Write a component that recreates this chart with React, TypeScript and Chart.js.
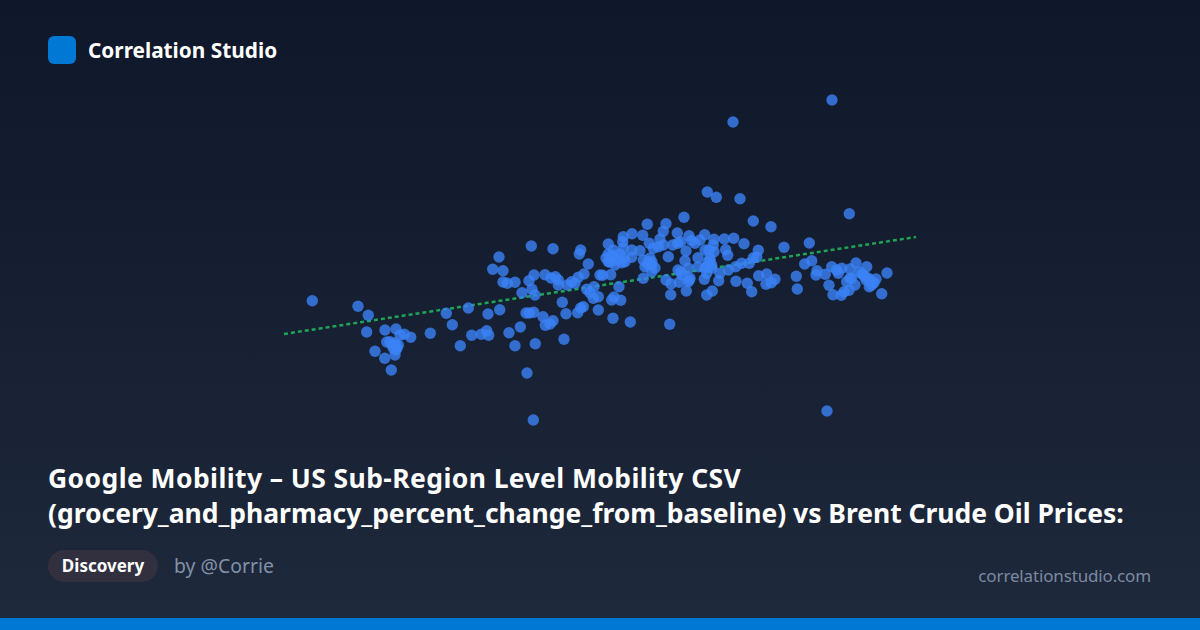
import React, { useEffect, useRef } from "react";
import { Chart, registerables } from "chart.js";

Chart.register(...registerables);

const grocery = [
  -28.77,-24.2,-23.17,-23.33,-21.5,-20.4,-20.0,-19.57,-18.93,-21.33,-21.0,-20.5,-20.17,-20.67,-20.4,-20.5,-22.5,-21.53,-20.87,-16.97,
  -15.37,-14.77,-13.17,-11.2,-10.03,-13.97,-12.83,-11.87,-11.33,-11.13,-9.1,-7.97,-8.5,-6.47,-3.6,-7.3,-6.67,-6.87,-4.7,-10.1,
  -10.73,-9.7,-9.7,-9.27,-8.5,-7.8,-7.1,-6.6,-6.8,-6.5,-5.5,-4.9,-4.47,-4.17,-4.17,-3.77,-3.4,-2.23,-1.93,-1.67,
  -3.27,-2.83,-2.5,-2.17,-1.6,-1.17,-2.07,-1.93,-1.33,-1.0,-0.6,-0.67,-0.17,-0.17,-7.4,-7.07,-6.63,-5.7,-4.7,-5.0,
  -5.47,0.0,10.73,11.63,14.0,24.93,15.33,17.1,8.4,4.73,6.6,6.33,3.2,4.27,2.33,2.27,0.83,7.73,8.9,10.47,
  11.4,12.43,13.37,14.4,18.4,20.93,15.83,12.57,12.77,11.33,11.4,10.5,10.9,10.0,9.5,9.17,8.07,7.27,7.77,6.0,
  4.93,5.33,5.83,6.33,4.0,3.17,2.33,1.33,0.83,1.17,0.83,1.5,2.17,2.5,3.17,4.33,4.83,5.17,4.5,5.17,
  4.33,6.83,8.6,8.5,9.8,11.0,11.17,10.67,9.83,8.83,8.07,9.0,8.83,7.93,7.1,6.6,10.43,10.67,12.0,12.83,
  11.87,13.6,13.57,14.17,14.93,15.33,15.67,14.73,15.17,15.87,16.67,17.5,17.13,16.6,19.63,19.73,20.47,21.17,21.7,21.6,
  22.53,23.17,23.83,24.17,25.0,25.6,26.67,25.93,25.0,24.67,25.5,22.9,23.3,24.13,24.4,24.9,26.5,27.0,27.6,27.17,
  26.93,28.7,28.17,1.9,0.27,1.07,1.17,1.4,2.07,1.3,3.03,6.97,7.07,8.63,10.67,11.23,8.93,23.2,13.3,22.7,
  23.67,26.33,25.17,27.4,26.83,
  1.2,1.8,0.6,2.0,1.5,1.0,2.4,4.8,5.2,5.0,5.5,10.8,10.5,11.2,11.0,8.2,7.8,-20.8,-20.5,-20.3,26.2,26.6,
];
const brent = [
  39.86,38.74,36.94,33.6,34.0,34.2,33.0,33.14,32.54,31.6,31.66,31.0,31.0,30.34,30.0,29.0,29.74,28.34,26.0,33.34,
  37.34,35.06,38.4,37.2,38.06,30.86,32.94,33.14,33.86,32.94,33.46,34.6,30.86,31.26,32.14,25.4,16.0,50.8,50.26,48.6,
  46.14,45.86,43.6,43.34,43.54,41.46,43.86,45.0,42.14,41.0,45.06,44.4,44.66,44.0,43.0,39.54,37.26,37.46,38.4,38.66,
  43.0,43.66,43.34,44.54,45.2,47.2,49.2,50.0,42.14,41.46,42.66,40.34,40.66,38.0,37.4,37.4,37.54,36.66,35.86,35.2,
  34.94,45.0,61.6,60.54,60.26,57.26,55.8,54.66,56.54,55.14,55.26,53.74,53.26,52.94,52.66,51.66,51.2,53.4,52.86,53.06,
  52.14,52.2,52.34,51.26,50.54,51.4,49.94,50.06,48.94,51.0,49.66,50.0,50.0,52.0,51.34,51.86,51.66,51.0,51.34,52.2,
  51.34,50.34,50.66,51.0,49.86,50.0,50.34,50.0,49.2,48.54,47.66,48.0,47.46,47.66,48.54,48.0,47.66,47.0,46.66,45.66,
  44.34,48.66,49.8,47.86,48.46,47.86,47.0,46.66,46.66,46.34,45.66,44.34,43.66,43.54,43.2,44.0,44.14,45.34,45.34,46.0,
  43.86,43.74,46.66,47.34,47.34,48.46,48.54,43.34,41.66,44.86,45.2,44.14,43.46,43.14,44.74,42.2,47.2,47.86,45.86,45.0,
  45.14,46.66,45.34,46.34,46.2,47.4,46.66,45.66,44.34,43.66,43.0,42.94,41.06,40.94,41.66,41.94,44.66,44.0,44.2,43.0,
  42.66,45.4,41.26,42.66,44.94,45.06,40.0,40.6,39.94,36.34,35.6,35.14,41.06,41.8,41.0,41.8,44.0,80.0,75.6,17.8,
  46.0,45.0,44.34,43.46,44.34,
  49.0,48.4,48.4,49.2,47.0,47.6,48.4,47.0,47.6,48.4,46.4,47.6,46.4,46.4,48.4,45.0,46.0,31.0,31.4,30.4,45.2,44.0,
];
const trendX = [-31.6, 31.6];
const trendY = [33.2, 52.6];

const brandName = "Correlation Studio";
const titleLines = [
  "Google Mobility – US Sub-Region Level Mobility CSV",
  "(grocery_and_pharmacy_percent_change_from_baseline) vs Brent Crude Oil Prices:",
];
const titleSpacing = [0.41, -0.03];
const badge = "Discovery";
const author = "by @Corrie";
const site = "correlationstudio.com";

const FONT = '"Noto Sans", sans-serif';

export default function App() {
  const ref = useRef<HTMLCanvasElement>(null);
  useEffect(() => {
    const chart = new Chart(ref.current!, {
      type: "scatter",
      data: {
        datasets: [
          {
            label: "Trend",
            data: trendX.map((x, i) => ({ x, y: trendY[i] })),
            showLine: true,
            borderColor: "rgba(34,197,94,0.8)",
            borderWidth: 2.5,
            borderDash: [4, 3],
            pointRadius: 0,
            order: 2,
          },
          {
            label: "Observations",
            data: grocery.map((x, i) => ({ x, y: brent[i] })),
            backgroundColor: "rgba(59,130,246,0.8)",
            borderWidth: 0,
            pointRadius: 5.7,
            order: 1,
          },
        ],
      },
      options: {
        animation: false,
        responsive: false,
        devicePixelRatio: 1,
        layout: { padding: 0, autoPadding: false },
        plugins: { legend: { display: false }, tooltip: { enabled: false } },
        scales: {
          x: { type: "linear", min: -34, max: 34, display: false },
          y: { type: "linear", min: 12, max: 84, display: false },
        },
      },
    });
    return () => chart.destroy();
  }, []);

  return (
    <div
      style={{
        position: "absolute",
        left: 0,
        top: 0,
        width: 1200,
        height: 630,
        overflow: "hidden",
        background: "linear-gradient(180deg, #0f172a 0%, #1e293b 100%)",
        fontFamily: FONT,
      }}
    >
      <div style={{ position: "absolute", left: 48, top: 36, width: 28, height: 28, borderRadius: 6, background: "#0078d4" }} />
      <div style={{ position: "absolute", left: 88, top: 35, fontSize: 20.8, lineHeight: "30px", fontWeight: 700, color: "#fff", whiteSpace: "nowrap" }}>
        {brandName}
      </div>
      <canvas ref={ref} width={680} height={360} style={{ position: "absolute", left: 260, top: 80, width: 680, height: 360 }} />
      <div style={{ position: "absolute", left: 48, top: 461, fontSize: 26.5, lineHeight: "35px", fontWeight: 700, color: "#fff", whiteSpace: "nowrap" }}>
        {titleLines.map((t, i) => (
          <div key={t} style={{ letterSpacing: titleSpacing[i] }}>{t}</div>
        ))}
      </div>
      <div style={{ position: "absolute", left: 48, top: 550, width: 110, height: 32, borderRadius: 16, background: "#322f3f", color: "#fff", fontSize: 17, fontWeight: 700, lineHeight: "32px", textAlign: "center" }}>
        {badge}
      </div>
      <div style={{ position: "absolute", left: 174, top: 553, fontSize: 19.4, lineHeight: "26px", color: "#8291a8", whiteSpace: "nowrap" }}>{author}</div>
      <div style={{ position: "absolute", right: 49, top: 563, fontSize: 17, letterSpacing: -0.15, lineHeight: "26px", color: "#7b8aa1", whiteSpace: "nowrap" }}>{site}</div>
      <div style={{ position: "absolute", left: 0, top: 618, width: 1200, height: 12, background: "#0078d4" }} />
    </div>
  );
}
